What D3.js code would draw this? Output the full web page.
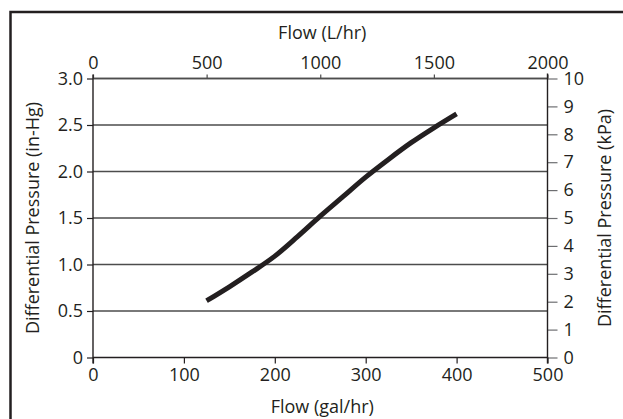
<!DOCTYPE html>
<html><head><meta charset="utf-8">
<script src="https://cdn.jsdelivr.net/npm/d3@7"></script>
<style>body{margin:0;background:#fff}svg{display:block}text{font-family:"Open Sans",sans-serif;fill:#231f20}</style>
</head><body>
<svg id="c" width="623" height="419"></svg>
<script>
const flowGal = [125,150,175,200,225,250,275,300,325,350,375,400];
const dpInHg  = [0.61,0.76,0.92,1.09,1.30,1.52,1.73,1.94,2.13,2.31,2.47,2.62];
const leftTicks = [0,0.5,1,1.5,2,2.5,3];
const rightTicks = [0,1,2,3,4,5,6,7,8,9,10];
const topTicks = [0,500,1000,1500,2000];
const bottomTicks = [0,100,200,300,400,500];
const titles = {top:"Flow (L/hr)", bottom:"Flow (gal/hr)", left:"Differential Pressure (in-Hg)", right:"Differential Pressure (kPa)"};

const svg = d3.select("#c");
const L=93, R=547.5, T=78.5, B=357.5;
const x = d3.scaleLinear().domain([0,500]).range([L,R]);
const xT = d3.scaleLinear().domain([0,2000]).range([L,R]);
const y = d3.scaleLinear().domain([0,3]).range([B,T]);
const yR = d3.scaleLinear().domain([0,10]).range([B,T]);
const fs = 18;

// frame
svg.append("rect").attr("x",10.5).attr("y",12).attr("width",640).attr("height",440)
  .attr("fill","none").attr("stroke","#231f20").attr("stroke-width",2.5);

// grid
svg.append("g").selectAll("line").data(leftTicks.filter(d=>d>0)).join("line")
  .attr("x1",L).attr("x2",R).attr("y1",d=>y(d)).attr("y2",d=>y(d))
  .attr("stroke","#4d4d4d").attr("stroke-width",1.3);

function styleAxis(g, col){
  g.select(".domain").remove();
  g.attr("font-size",fs).attr("font-family","'Open Sans',sans-serif");
  g.selectAll(".tick line").attr("stroke",col).attr("stroke-width",1.2);
  g.selectAll(".tick text").attr("font-size",fs).attr("fill","#231f20");
}
const gl = svg.append("g").attr("transform",`translate(${L},0)`)
  .call(d3.axisLeft(y).tickValues(leftTicks).tickSize(6).tickPadding(4).tickFormat(d=>d===0?"0":d3.format(".1f")(d)));
styleAxis(gl,"#231f20");
const gr = svg.append("g").attr("transform",`translate(${R},0)`)
  .call(d3.axisRight(yR).tickValues(rightTicks).tickSize(10).tickPadding(6).tickFormat(d3.format("d")));
styleAxis(gr,"#6d6e71");
const gt = svg.append("g").attr("transform",`translate(0,${T})`)
  .call(d3.axisTop(xT).tickValues(topTicks).tickSize(4).tickPadding(6).tickFormat(d3.format("d")));
styleAxis(gt,"#4d4d4d");
const gb = svg.append("g").attr("transform",`translate(0,${B})`)
  .call(d3.axisBottom(x).tickValues(bottomTicks).tickSize(6).tickPadding(5).tickFormat(d3.format("d")));
styleAxis(gb,"#231f20");

// axis lines
svg.append("line").attr("x1",L).attr("x2",R).attr("y1",T).attr("y2",T).attr("stroke","#4d4d4d").attr("stroke-width",1.4);
svg.append("line").attr("x1",L).attr("x2",R).attr("y1",B).attr("y2",B).attr("stroke","#231f20").attr("stroke-width",1.5);
svg.append("line").attr("x1",L).attr("x2",L).attr("y1",T-4).attr("y2",B+6).attr("stroke","#231f20").attr("stroke-width",1.4);
svg.append("line").attr("x1",R).attr("x2",R).attr("y1",T-5).attr("y2",B+6).attr("stroke","#231f20").attr("stroke-width",1.4);

// curve
const pts = flowGal.map((f,i)=>[f,dpInHg[i]]);
svg.append("path").datum(pts)
  .attr("d", d3.line().x(d=>x(d[0])).y(d=>y(d[1])).curve(d3.curveMonotoneX))
  .attr("fill","none").attr("stroke","#231f20").attr("stroke-width",5);

// titles
svg.append("text").attr("x",(L+R)/2+2).attr("y",39).attr("text-anchor","middle").attr("font-size",fs).text(titles.top);
svg.append("text").attr("x",(L+R)/2+2).attr("y",413).attr("text-anchor","middle").attr("font-size",fs).text(titles.bottom);
svg.append("text").attr("transform",`translate(39,${(T+B)/2}) rotate(-90)`).attr("text-anchor","middle").attr("font-size",fs).text(titles.left);
svg.append("text").attr("transform",`translate(611,${(T+B)/2}) rotate(-90)`).attr("text-anchor","middle").attr("font-size",fs).text(titles.right);
</script>
</body></html>
